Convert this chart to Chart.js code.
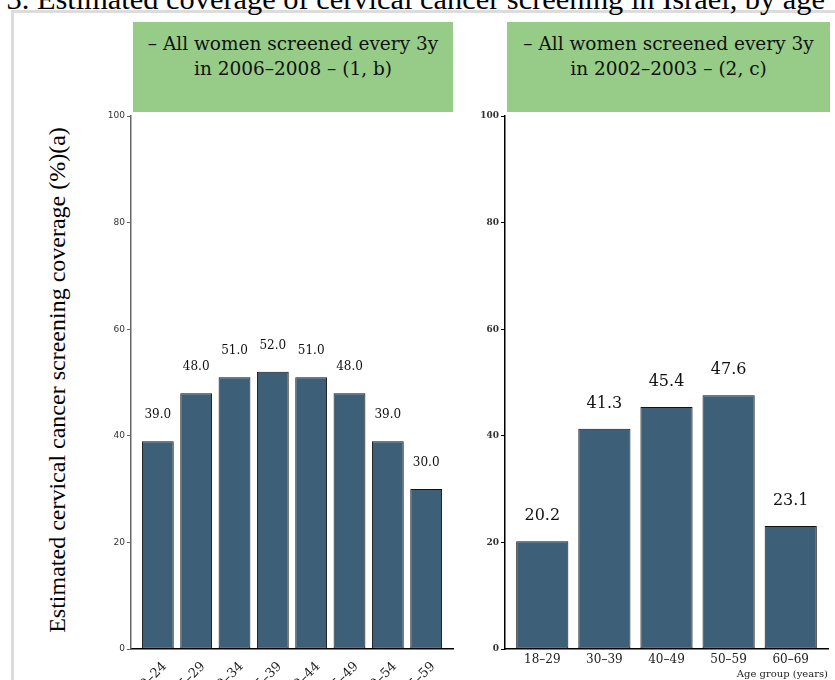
<!DOCTYPE html>
<html><head><meta charset="utf-8">
<script src="https://cdn.jsdelivr.net/npm/chart.js@4.4.1/dist/chart.umd.min.js"></script>
<style>
html,body{margin:0;padding:0;width:835px;height:680px;overflow:hidden;background:#fff;}
#wrap{position:relative;width:835px;height:680px;overflow:hidden;}
#title{position:absolute;right:10px;top:-16px;white-space:nowrap;font:30.4px/30px "Liberation Serif",serif;color:#000;}
#frame{position:absolute;left:11px;top:10px;width:900px;height:800px;border:3px solid #dcdcdc;box-sizing:border-box;}
#ylab{position:absolute;left:57px;top:380px;white-space:nowrap;font:24px/24px "Liberation Serif",serif;color:#000;transform:translate(-50%,-50%) rotate(-90deg);}
.strip{position:absolute;top:22px;height:90px;background:#96cc88;overflow:hidden;}
.strip div{position:absolute;left:50%;transform:translateX(-50%);white-space:nowrap;font:18.5px/18px "DejaVu Serif",serif;color:#111;}
canvas{position:absolute;}
</style></head>
<body><div id="wrap">
<div id="frame"></div>
<div id="title">3. Estimated coverage of cervical cancer screening in Israel, by age</div>
<div id="ylab">Estimated cervical cancer screening coverage (%)(a)</div>
<div class="strip" style="left:133px;width:320px;"><div style="top:13px">– All women screened every 3y</div><div style="top:38px">in 2006–2008 – (1, b)</div></div>
<div class="strip" style="left:507px;width:323px;"><div style="top:13px">– All women screened every 3y</div><div style="top:38px">in 2002–2003 – (2, c)</div></div>
<canvas id="c1" width="400" height="609" style="left:70px;top:100px;"></canvas>
<canvas id="c2" width="370" height="580" style="left:465px;top:100px;"></canvas>
</div>
<script>
// Panel 1: 2006–2008
const ages1 = ["20–24","25–29","30–34","35–39","40–44","45–49","50–54","55–59"];
const coverage1 = [39.0, 48.0, 51.0, 52.0, 51.0, 48.0, 39.0, 30.0];
// Panel 2: 2002–2003
const ages2 = ["18–29","30–39","40–49","50–59","60–69"];
const coverage2 = [20.2, 41.3, 45.4, 47.6, 23.1];
const yTicks = [0, 20, 40, 60, 80, 100];
const xTitle = "Age group (years)";

const BAR = '#3e5f78';

function labelPlugin(fontSize, offset){
  return {
    id:'valLabels',
    afterDatasetsDraw(chart){
      const ctx = chart.ctx;
      const ds = chart.data.datasets[0];
      const meta = chart.getDatasetMeta(0);
      ctx.save();
      ctx.font = fontSize + 'px "DejaVu Serif", serif';
      ctx.fillStyle = '#111';
      ctx.textAlign = 'center';
      ctx.textBaseline = 'middle';
      meta.data.forEach((el,i)=>{
        ctx.fillText(ds.data[i].y.toFixed(1), el.x, el.y - offset);
      });
      ctx.restore();
    }
  };
}

function makeChart(id, labels, values, opt){
  const data = values.map((v,i)=>({x:i, y:v}));
  return new Chart(document.getElementById(id), {
    type:'bar',
    data:{datasets:[{data, backgroundColor:BAR, borderColor:'#111', borderWidth:1, borderSkipped:false,
      barPercentage:opt.barPct, categoryPercentage:1}]},
    options:{
      responsive:false, animation:false, devicePixelRatio:1,
      layout:{padding:{top:16,right:opt.padRight,left:0,bottom:0}},
      plugins:{legend:{display:false}, tooltip:{enabled:false}, title:{display:false}},
      scales:{
        x:{type:'linear', min:opt.xmin, max:labels.length-1-opt.xmin, offset:false,
          grid:{display:false, drawTicks:false},
          border:{display:true, color:'#000', width:1.5},
          afterBuildTicks(s){ s.ticks = labels.map((l,i)=>({value:i})); },
          afterFit(s){ s.height = opt.xH; },
          ticks:{autoSkip:false, maxRotation:opt.rot, minRotation:opt.rot, padding:opt.xPad, labelOffset:opt.xOff,
            color:'#222', font:{family:'"DejaVu Serif", serif', size:opt.xFont},
            callback:(v)=>labels[v] !== undefined ? labels[v] : ''},
          title:{display:true, text:xTitle, align:'end', color:'#222', padding:{top:0,bottom:0},
            font:{family:'"DejaVu Serif", serif', size:10}}
        },
        y:{min:0, max:100,
          afterBuildTicks(s){ s.ticks = yTicks.map(v=>({value:v})); },
          afterFit(s){ s.width = opt.yW; },
          grid:{display:true, drawOnChartArea:false, drawTicks:true, tickLength:4, color:opt.axisColor, lineWidth:1},
          border:{display:true, color:opt.axisColor, width:1.5},
          ticks:{padding:2, color:'#333', font:opt.yFont}
        }
      }
    },
    plugins:[labelPlugin(opt.lblFont, opt.lblOff)]
  });
}

makeChart('c1', ages1, coverage1, {barPct:0.83, xmin:-0.7, padRight:17, xH:60, yW:61, rot:45, xPad:10, xOff:7, xFont:13,
  axisColor:'#666', yFont:{family:'"DejaVu Sans", sans-serif', size:9}, lblFont:12, lblOff:26});
makeChart('c2', ages2, coverage2, {barPct:0.84, xmin:-0.6, padRight:7, xH:31, yW:40, rot:0, xPad:4, xOff:0, xFont:12,
  axisColor:'#000', yFont:{family:'"DejaVu Serif", serif', size:9, weight:'bold'}, lblFont:16, lblOff:25});
</script>
</body></html>
